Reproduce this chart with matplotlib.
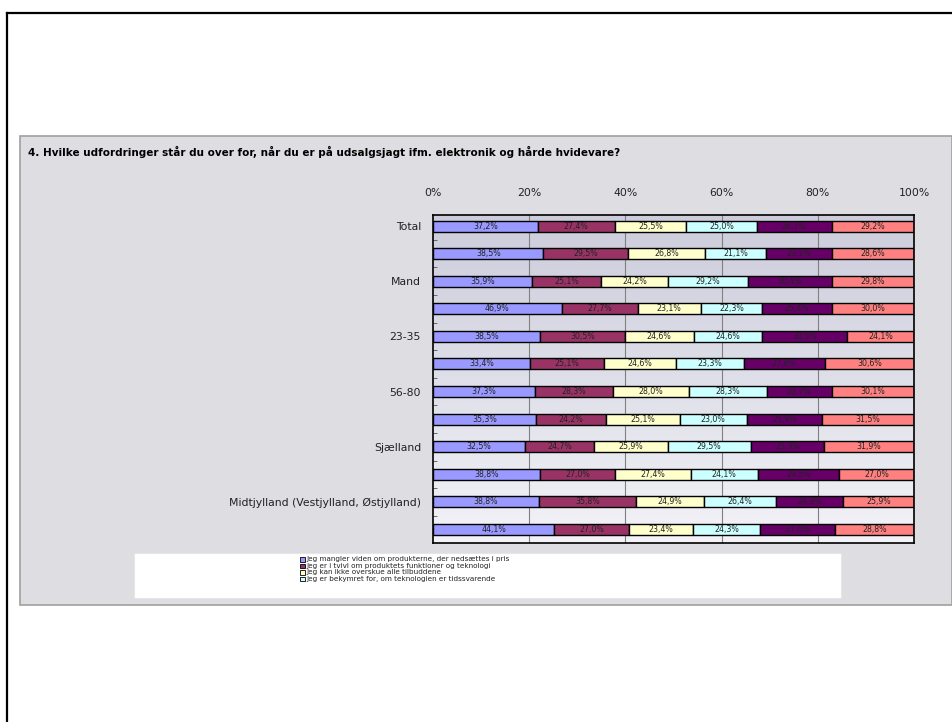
import numpy as np
import matplotlib.pyplot as plt
from matplotlib.patches import Rectangle
from matplotlib.lines import Line2D

# rows top to bottom; only every other row carries a visible label in the original
categories = ["Total", "", "Mand", "", "23-35", "", "56-80", "",
              "Sjælland", "", "Midtjylland (Vestjylland, Østjylland)", ""]

s1 = [37.2, 38.5, 35.9, 46.9, 38.5, 33.4, 37.3, 35.3, 32.5, 38.8, 38.8, 44.1]
s2 = [27.4, 29.5, 25.1, 27.7, 30.5, 25.1, 28.3, 24.2, 24.7, 27.0, 35.8, 27.0]
s3 = [25.5, 26.8, 24.2, 23.1, 24.6, 24.6, 28.0, 25.1, 25.9, 27.4, 24.9, 23.4]
s4 = [25.0, 21.1, 29.2, 22.3, 24.6, 23.3, 28.3, 23.0, 29.5, 24.1, 26.4, 24.3]
s5 = [26.7, 23.1, 30.4, 25.4, 30.5, 27.8, 23.7, 25.9, 25.9, 29.5, 24.9, 27.0]
s6 = [29.2, 28.6, 29.8, 30.0, 24.1, 30.6, 30.1, 31.5, 31.9, 27.0, 25.9, 28.8]

# only the first four names are visible in the (cut off) legend
legend_names = ["Jeg mangler viden om produkterne, der nedsættes i pris",
                "Jeg er i tvivl om produktets funktioner og teknologi",
                "Jeg kan ikke overskue alle tilbuddene",
                "Jeg er bekymret for, om teknologien er tidssvarende"]

title = "4. Hvilke udfordringer står du over for, når du er på udsalgsjagt ifm. elektronik og hårde hvidevare?"
xticks = [0, 20, 40, 60, 80, 100]

colors = ["#9999FF", "#993366", "#FFFFCC", "#CCFFFF", "#660066", "#FF8080"]

W, H = 953, 722


def fx(x):
    return x / W


def fy(y):
    return 1 - y / H


fig = plt.figure(figsize=(W / 100, H / 100), dpi=100)
fig.patch.set_facecolor("white")

# outer frame (left + top)
fig.add_artist(Line2D([fx(7), fx(7)], [fy(13), 0], color="black", lw=1.6, zorder=-3))
fig.add_artist(Line2D([fx(7), 1], [fy(13), fy(13)], color="black", lw=1.6, zorder=-3))

# gray chart panel
fig.patches.append(Rectangle((fx(20), fy(605)), fx(952) - fx(20), fy(136) - fy(605),
                             transform=fig.transFigure, facecolor="#dddde2",
                             edgecolor="#a0a0a0", lw=1.2, zorder=-2))
# legend box
fig.patches.append(Rectangle((fx(134), fy(598)), fx(841) - fx(134), fy(553) - fy(598),
                             transform=fig.transFigure, facecolor="white",
                             edgecolor="#e6e6ea", lw=0.8, zorder=-1))

fig.text(fx(28), fy(152), title, fontsize=7.5, fontweight="bold", ha="left", va="center")

ax = fig.add_axes([fx(433), fy(543), fx(914) - fx(433), fy(215) - fy(543)])
ax.set_zorder(1)

# gradient background of plot area
grad = np.linspace(0, 1, 256).reshape(-1, 1)
top = np.array([0.80, 0.80, 0.86])
bot = np.array([0.95, 0.95, 0.97])
img = top + (bot - top) * grad[:, :, None] * np.ones((1, 1, 3))
ax.imshow(img, extent=[0, 1, 0, 1], transform=ax.transAxes, aspect="auto", zorder=0)

series = [s1, s2, s3, s4, s5, s6]
data = np.array(series)
totals = data.sum(axis=0)
y = np.arange(len(categories))
left = np.zeros(len(categories))
for vals, col in zip(data, colors):
    share = vals / totals * 100
    ax.barh(y, share, left=left, height=0.4, color=col, edgecolor="black", lw=1.0, zorder=3)
    for yi, l, w, v in zip(y, left, share, vals):
        ax.text(l + w / 2, yi, f"{v:.1f}%".replace(".", ","), ha="center", va="center",
                fontsize=5.7, color="#222222", zorder=4)
    left += share

for xv in xticks[1:-1]:
    ax.axvline(xv, color="#808080", lw=0.8, zorder=1)

ax.set_xlim(0, 100)
ax.set_ylim(11.49, -0.4)
ax.xaxis.tick_top()
ax.set_xticks(xticks, [f"{v}%" for v in xticks])
ax.tick_params(axis="x", length=0, pad=12, labelsize=7.8, colors="#222222")

ax.set_yticks(y[::2], categories[::2])
ax.set_yticks(y[:-1] + 0.5, minor=True)
ax.tick_params(axis="y", which="major", length=0, pad=8.6, labelsize=7.8, colors="#222222")
ax.tick_params(axis="y", which="minor", direction="in", length=3, width=0.6, color="#555555")
for sp in ax.spines.values():
    sp.set_color("black")
    sp.set_linewidth(1.2)
    sp.set_zorder(5)

# legend, first four entries only (as visible in the original)
for i, (name, col) in enumerate(zip(legend_names, colors)):
    yc = 559.5 + i * 6.4
    fig.patches.append(Rectangle((fx(300), fy(yc + 2.2)), fx(4.6), 4.4 / H,
                                 transform=fig.transFigure, facecolor=col,
                                 edgecolor="black", lw=0.6, zorder=2))
    fig.text(fx(306.5), fy(yc), name, fontsize=5.2, ha="left", va="center",
             color="#222222", zorder=3)

fig.savefig("out.png", dpi=100)
